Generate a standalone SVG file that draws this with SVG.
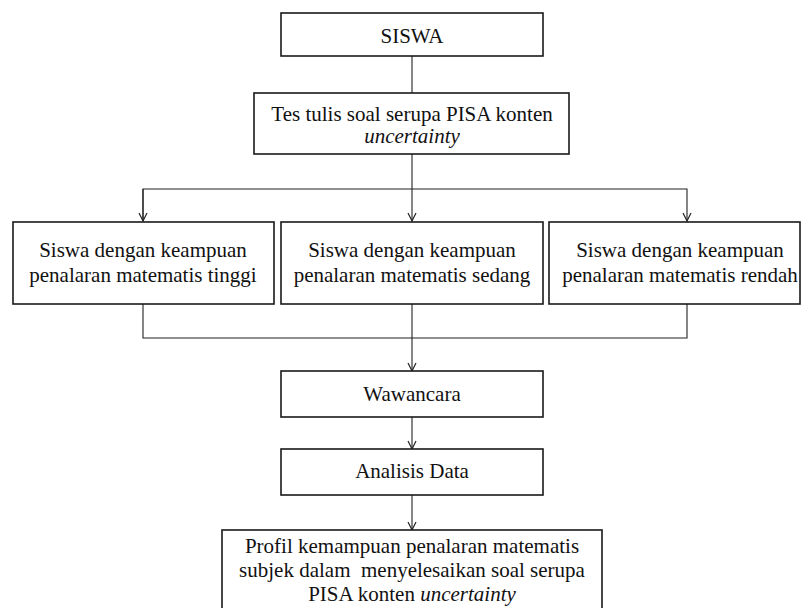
<svg xmlns="http://www.w3.org/2000/svg" width="801" height="608" viewBox="0 0 801 608">
<style>
.box{fill:#fff;stroke:#1a1a1a;stroke-width:1.6}
.t{font-family:'Liberation Serif','Times New Roman',Times,serif;font-size:21px;fill:#111;text-anchor:middle}
.i{font-style:italic}
.c{fill:none;stroke:#222;stroke-width:1.1}
</style>
<defs>
<marker id="arr" markerWidth="12" markerHeight="12" refX="10" refY="6" orient="auto" markerUnits="userSpaceOnUse" viewBox="0 0 12 12">
<path d="M2,2 L10,6 L2,10" fill="none" stroke="#222" stroke-width="1.2"/>
</marker>
</defs>
<rect width="801" height="608" fill="#fff"/>
<g id="connectors">
<line class="c" x1="412" y1="56" x2="412" y2="93"/>
<line class="c" x1="412" y1="154" x2="412" y2="221" marker-end="url(#arr)"/>
<polyline class="c" points="143,221 143,189 687,189 687,221" marker-end="url(#arr)"/>
<line class="c" x1="143" y1="189" x2="143" y2="221" marker-end="url(#arr)"/>
<polyline class="c" points="143,304 143,338 687,338 687,304"/>
<line class="c" x1="412" y1="304" x2="412" y2="371" marker-end="url(#arr)"/>
<line class="c" x1="412" y1="417" x2="412" y2="449" marker-end="url(#arr)"/>
<line class="c" x1="412" y1="495" x2="412" y2="530" marker-end="url(#arr)"/>
</g>
<g id="siswa">
<rect class="box" x="281" y="13" width="262" height="43"/>
<text class="t" font-family="Liberation Serif, serif" x="412" y="43">SISWA</text>
</g>
<g id="tes">
<rect class="box" x="254" y="93" width="315" height="61"/>
<text class="t" x="412" y="121">Tes tulis soal serupa PISA konten</text>
<text class="t i" x="412" y="143">uncertainty</text>
</g>
<g id="tinggi">
<rect class="box" x="13" y="222" width="261" height="82"/>
<text class="t" x="143" y="257">Siswa dengan keampuan</text>
<text class="t" x="143" y="282">penalaran matematis tinggi</text>
</g>
<g id="sedang">
<rect class="box" x="281" y="222" width="262" height="82"/>
<text class="t" x="412" y="257">Siswa dengan keampuan</text>
<text class="t" x="412" y="282">penalaran matematis sedang</text>
</g>
<g id="rendah">
<rect class="box" x="549" y="222" width="251" height="82"/>
<text class="t" x="680" y="257">Siswa dengan keampuan</text>
<text class="t" x="680" y="282">penalaran matematis rendah</text>
</g>
<g id="wawancara">
<rect class="box" x="281" y="371" width="262" height="46"/>
<text class="t" x="412" y="401">Wawancara</text>
</g>
<g id="analisis">
<rect class="box" x="281" y="449" width="262" height="46"/>
<text class="t" x="412" y="478">Analisis Data</text>
</g>
<g id="profil">
<rect class="box" x="222" y="530" width="380" height="90"/>
<text class="t" x="412" y="553">Profil kemampuan penalaran matematis</text>
<text class="t" x="412" y="577" xml:space="preserve">subjek dalam  menyelesaikan soal serupa</text>
<text class="t" x="412" y="601">PISA konten <tspan class="i">uncertainty</tspan></text>
</g>
</svg>
